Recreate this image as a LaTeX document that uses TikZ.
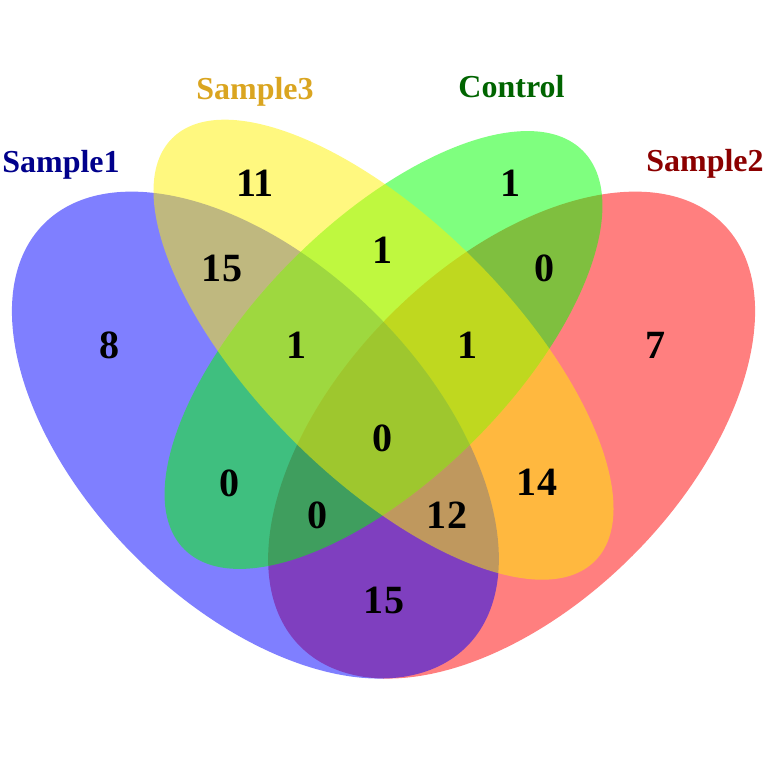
\documentclass[tikz,border=0pt]{standalone}
\usepackage{fontspec}
\setmainfont{Liberation Serif}
\usepackage{tikz}

\definecolor{sampleone}{RGB}{0,0,139}
\definecolor{sampletwo}{RGB}{139,0,0}
\definecolor{samplethree}{RGB}{218,165,32}
\definecolor{control}{RGB}{0,100,0}

\begin{document}
\begin{tikzpicture}[count/.style={font=\fontsize{11.4}{12}\selectfont\bfseries},
  setname/.style={font=\fontsize{9.1}{10}\selectfont\bfseries, anchor=base}]
\useasboundingbox (0,0) rectangle (7.68,7.68);

% Draw the four sets, half transparent.
\fill[red, fill opacity=0.5] (5.116,3.329) ellipse [x radius=2.989, y radius=1.708, rotate=45];
\fill[blue, fill opacity=0.5] (2.554,3.329) ellipse [x radius=2.989, y radius=1.708, rotate=-45];
\fill[green, fill opacity=0.5] (3.835,4.180) ellipse [x radius=2.818, y radius=1.281, rotate=45];
\fill[yellow, fill opacity=0.5] (3.835,4.183) ellipse [x radius=2.989, y radius=1.281, rotate=-45];

% Set names.
\node[setname, color=sampleone] (sone) at (0.61,5.95) {Sample1};
\node[setname, color=samplethree] (sthree) at (2.55,6.68) {Sample3};
\node[setname, color=control] (ctrl) at (5.115,6.70) {Control};
\node[setname, color=sampletwo] (stwo) at (7.05,5.96) {Sample2};

% Counts in each region.
\node[count] (n1) at (2.55,5.85) {11};
\node[count] (n2) at (5.11,5.85) {1};
\node[count] (n3) at (1.10,4.23) {8};
\node[count] (n4) at (2.22,5.00) {15};
\node[count] (n5) at (3.83,5.18) {1};
\node[count] (n6) at (5.45,5.00) {0};
\node[count] (n7) at (6.56,4.23) {7};
\node[count] (n8) at (2.97,4.23) {1};
\node[count] (n9) at (4.68,4.23) {1};
\node[count] (n10) at (2.30,2.85) {0};
\node[count] (n11) at (3.83,3.30) {0};
\node[count] (n12) at (5.37,2.86) {14};
\node[count] (n13) at (3.18,2.53) {0};
\node[count] (n14) at (4.47,2.53) {12};
\node[count] (n15) at (3.84,1.68) {15};

\end{tikzpicture}
\end{document}
